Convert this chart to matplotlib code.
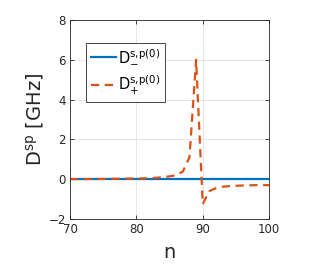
import numpy as np
import matplotlib
matplotlib.use("Agg")
import matplotlib.pyplot as plt

# data
n = np.arange(70, 101)
d_minus = [0.0] * 31
d_plus = [0.0, 0.0, 0.0, 0.01, 0.01, 0.01, 0.02, 0.02, 0.02, 0.03, 0.03,
          0.04, 0.05, 0.07, 0.10, 0.14, 0.20, 0.38, 1.10, 6.00,
          -1.25, -0.60, -0.45, -0.38, -0.35, -0.33, -0.32, -0.31, -0.30, -0.30, -0.30]
xticks = [70, 80, 90, 100]
yticks = [-2, 0, 2, 4, 6, 8]

fig = plt.figure(figsize=(3.27, 2.67), dpi=100)
ax = fig.add_axes([0.214, 0.180, 0.609, 0.745])

ax.plot(n, d_minus, color="#0072BD", lw=1.6, label=r"D$^{\rm s{,}p(0)}_{-}$")
ax.plot(n, d_plus, color="#D95319", lw=1.6, ls=(0, (3.7, 2.5)), label=r"D$^{\rm s{,}p(0)}_{+}$")

ax.set_xlim(70, 100)
ax.set_ylim(-2, 8)
ax.set_xticks(xticks)
ax.set_yticks(yticks)
ax.grid(True, color="#e6e6e6", lw=0.7)
ax.set_axisbelow(True)
ax.tick_params(direction="in", top=True, right=True, labelsize=8.5,
               colors="#262626", length=3, width=0.6, pad=3)
for s in ax.spines.values():
    s.set_color("#262626")
    s.set_linewidth(0.6)

ax.set_xlabel("n", fontsize=14, color="#262626", labelpad=5)
ax.set_ylabel(r"D$^{\rm sp}$ [GHz]", fontsize=14, color="#262626", labelpad=2)

leg = ax.legend(loc="upper left", bbox_to_anchor=(0.08, 0.885), borderaxespad=0,
                fontsize=10.5, handlelength=1.7, handletextpad=0.15, borderpad=0.35,
                labelspacing=0.55, fancybox=False, framealpha=1, edgecolor="#262626")
leg.get_frame().set_linewidth(0.6)

fig.savefig("out.png", dpi=100)
